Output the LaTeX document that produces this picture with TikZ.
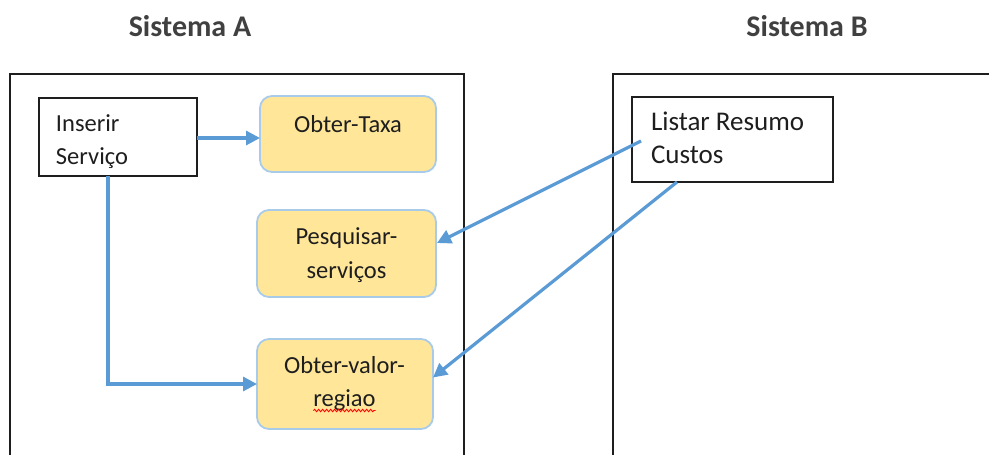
\documentclass[tikz,border=0pt]{standalone}
\usepackage{fontspec}
\setmainfont{Carlito}
\usetikzlibrary{arrows.meta,calc,decorations.pathmorphing}
\definecolor{arrowblue}{HTML}{5B9BD5}
\definecolor{boxfill}{HTML}{FFE699}
\definecolor{boxedge}{HTML}{A9CBEA}
\definecolor{titlegray}{HTML}{404040}
\definecolor{inkgray}{HTML}{1E1E1E}
\begin{document}
\begin{tikzpicture}[x=1pt,y=-1pt,
  every node/.style={inner sep=0pt, outer sep=0pt},
  sysframe/.style={draw=inkgray, line width=2pt},
  plainbox/.style={draw=inkgray, line width=2pt, rectangle},
  taskbox/.style={draw=boxedge, fill=boxfill, line width=1.8pt, rounded corners=12pt, rectangle},
  bodytext/.style={font=\fontsize{24.5}{33}\selectfont, text=inkgray},
  bigtext/.style={font=\fontsize{27}{33}\selectfont, text=inkgray},
  titletext/.style={font=\fontsize{30}{36}\selectfont\bfseries, text=titlegray, anchor=base},
  flow/.style={draw=arrowblue, line width=3.2pt, -{Triangle[length=14pt,width=14pt]}},
  spell/.style={draw=red, line width=0.9pt, decorate, decoration={snake, amplitude=1.2pt, segment length=4pt}},
]
\useasboundingbox (0,0) rectangle (989,455);

% titles
\node[titletext] (tA) at (190,36) {Sistema A};
\node[titletext] (tB) at (807,36) {Sistema B};

% system frames (open at the bottom)
\draw[sysframe] (10,458) -- (10,74) -- (464,74) -- (464,458);
\draw[sysframe] (613,458) -- (613,74) -- (992,74);

% boxes
\node[plainbox, minimum width=158pt, minimum height=78pt] (ins) at (118,137) {};
\node[taskbox, minimum width=176pt, minimum height=76pt] (taxa) at (348,134) {};
\node[taskbox, minimum width=179pt, minimum height=87pt] (pesq) at (346.5,253.5) {};
\node[taskbox, minimum width=176pt, minimum height=90pt] (valor) at (345,384) {};
\node[plainbox, minimum width=201pt, minimum height=85pt] (lst) at (732.5,139.5) {};

% texts
\node[bodytext, anchor=base west] (ins1) at (56,131) {Inserir};
\node[bodytext, anchor=base west] (ins2) at (56,164) {Serviço};
\node[bodytext, anchor=base] (taxa1) at (348,132) {Obter-Taxa};
\node[bodytext, anchor=base] (pesq1) at (346.5,244) {Pesquisar-};
\node[bodytext, anchor=base] (pesq2) at (346.5,278) {serviços};
\node[bodytext, anchor=base] (val1) at (344.5,373) {Obter-valor-};
\node[bodytext, anchor=base] (val2) at (344.5,406) {regiao};
\node[bigtext, anchor=base west] (lst1) at (651,130) {Listar Resumo};
\node[bigtext, anchor=base west] (lst2) at (651,163) {Custos};

% spell-check underline
\draw[spell] ($(val2.base west)+(0,4.5)$) -- ($(val2.base east)+(0,4.5)$);

% connectors
\draw[flow] ($(ins.east)+(0,1)$) -- ($(ins.east -| taxa.west)+(0,1)$);
\draw[flow] ($(ins.south)+(-10,0)$) |- (valor.west);
\draw[flow] ($(lst.west)+(9,1.5)$) -- ($(pesq.east)+(1,-10.5)$);
\draw[flow] ($(lst.south west)+(45,0)$) -- ($(valor.east)+(0,-6.5)$);
\end{tikzpicture}
\end{document}
